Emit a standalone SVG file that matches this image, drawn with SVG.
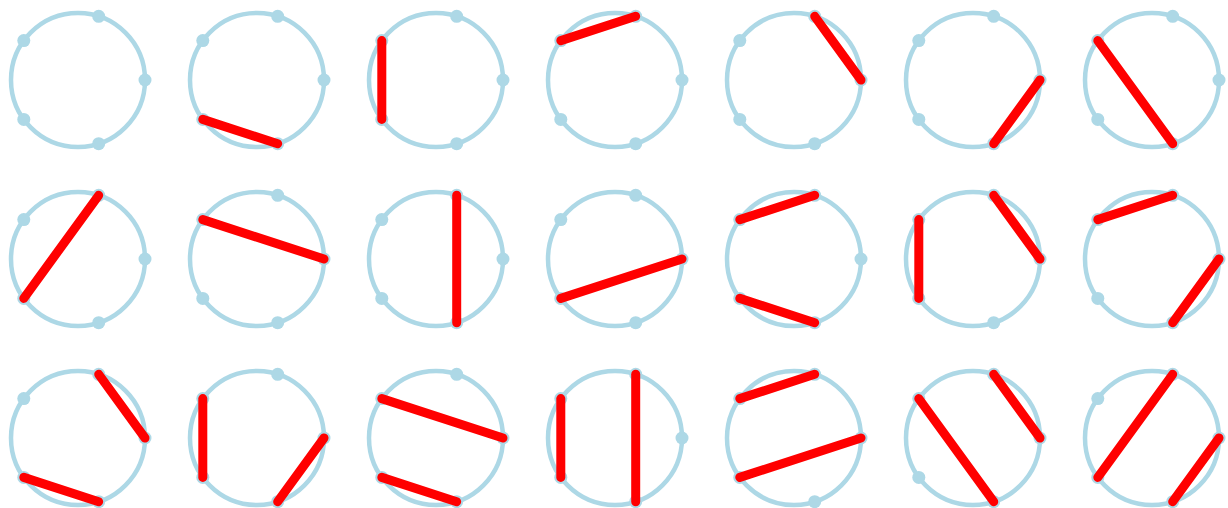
<svg xmlns="http://www.w3.org/2000/svg" xmlns:xlink="http://www.w3.org/1999/xlink" width="1228" height="508" viewBox="0 0 1228 508">
<style>
.ring{fill:none;stroke:#add8e6;stroke-width:4.5}
.dot{fill:#add8e6}
.chord{stroke:#ff0000;stroke-width:9;stroke-linecap:round}
</style>
<defs>
<g id="base">
<circle class="ring" cx="0" cy="0" r="67"/>
<circle class="dot" cx="67" cy="0" r="6.5"/>
<circle class="dot" cx="20.7" cy="-63.72" r="6.5"/>
<circle class="dot" cx="-54.2" cy="-39.38" r="6.5"/>
<circle class="dot" cx="-54.2" cy="39.38" r="6.5"/>
<circle class="dot" cx="20.7" cy="63.72" r="6.5"/>
</g>
<line id="c01" class="chord" x1="67" y1="0" x2="20.7" y2="-63.72"/>
<line id="c02" class="chord" x1="67" y1="0" x2="-54.2" y2="-39.38"/>
<line id="c03" class="chord" x1="67" y1="0" x2="-54.2" y2="39.38"/>
<line id="c04" class="chord" x1="67" y1="0" x2="20.7" y2="63.72"/>
<line id="c12" class="chord" x1="20.7" y1="-63.72" x2="-54.2" y2="-39.38"/>
<line id="c13" class="chord" x1="20.7" y1="-63.72" x2="-54.2" y2="39.38"/>
<line id="c14" class="chord" x1="20.7" y1="-63.72" x2="20.7" y2="63.72"/>
<line id="c23" class="chord" x1="-54.2" y1="-39.38" x2="-54.2" y2="39.38"/>
<line id="c24" class="chord" x1="-54.2" y1="-39.38" x2="20.7" y2="63.72"/>
<line id="c34" class="chord" x1="-54.2" y1="39.38" x2="20.7" y2="63.72"/>
</defs>
<g id="nodes">
<g id="n1" transform="translate(78,80)"><use href="#base"/></g>
<g id="n2" transform="translate(257,80)"><use href="#base"/></g>
<g id="n3" transform="translate(436,80)"><use href="#base"/></g>
<g id="n4" transform="translate(615,80)"><use href="#base"/></g>
<g id="n5" transform="translate(794,80)"><use href="#base"/></g>
<g id="n6" transform="translate(973,80)"><use href="#base"/></g>
<g id="n7" transform="translate(1152,80)"><use href="#base"/></g>
<g id="n8" transform="translate(78,259)"><use href="#base"/></g>
<g id="n9" transform="translate(257,259)"><use href="#base"/></g>
<g id="n10" transform="translate(436,259)"><use href="#base"/></g>
<g id="n11" transform="translate(615,259)"><use href="#base"/></g>
<g id="n12" transform="translate(794,259)"><use href="#base"/></g>
<g id="n13" transform="translate(973,259)"><use href="#base"/></g>
<g id="n14" transform="translate(1152,259)"><use href="#base"/></g>
<g id="n15" transform="translate(78,438)"><use href="#base"/></g>
<g id="n16" transform="translate(257,438)"><use href="#base"/></g>
<g id="n17" transform="translate(436,438)"><use href="#base"/></g>
<g id="n18" transform="translate(615,438)"><use href="#base"/></g>
<g id="n19" transform="translate(794,438)"><use href="#base"/></g>
<g id="n20" transform="translate(973,438)"><use href="#base"/></g>
<g id="n21" transform="translate(1152,438)"><use href="#base"/></g>
</g>
<g id="connectors">
<g transform="translate(257,80)"><use href="#c34"/></g>
<g transform="translate(436,80)"><use href="#c23"/></g>
<g transform="translate(615,80)"><use href="#c12"/></g>
<g transform="translate(794,80)"><use href="#c01"/></g>
<g transform="translate(973,80)"><use href="#c04"/></g>
<g transform="translate(1152,80)"><use href="#c24"/></g>
<g transform="translate(78,259)"><use href="#c13"/></g>
<g transform="translate(257,259)"><use href="#c02"/></g>
<g transform="translate(436,259)"><use href="#c14"/></g>
<g transform="translate(615,259)"><use href="#c03"/></g>
<g transform="translate(794,259)"><use href="#c12"/><use href="#c34"/></g>
<g transform="translate(973,259)"><use href="#c23"/><use href="#c01"/></g>
<g transform="translate(1152,259)"><use href="#c12"/><use href="#c04"/></g>
<g transform="translate(78,438)"><use href="#c01"/><use href="#c34"/></g>
<g transform="translate(257,438)"><use href="#c23"/><use href="#c04"/></g>
<g transform="translate(436,438)"><use href="#c02"/><use href="#c34"/></g>
<g transform="translate(615,438)"><use href="#c23"/><use href="#c14"/></g>
<g transform="translate(794,438)"><use href="#c12"/><use href="#c03"/></g>
<g transform="translate(973,438)"><use href="#c24"/><use href="#c01"/></g>
<g transform="translate(1152,438)"><use href="#c13"/><use href="#c04"/></g>
</g>
</svg>
